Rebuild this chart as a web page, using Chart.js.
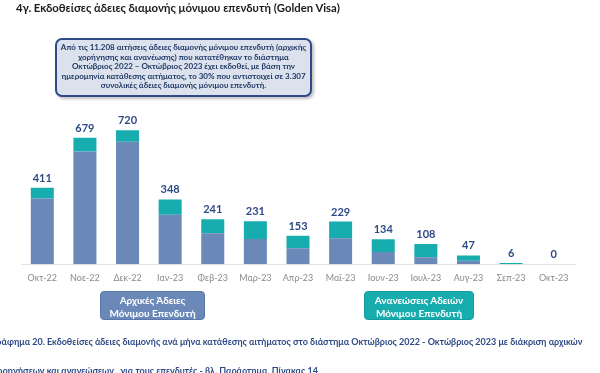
<!DOCTYPE html>
<html lang="el">
<head>
<meta charset="utf-8">
<script src="https://cdn.jsdelivr.net/npm/chart.js@4"></script>
<style>
  html, body { margin: 0; padding: 0; background: #fff; }
  body { width: 600px; height: 373px; overflow: hidden; position: relative; font-family: Lato, "Open Sans", sans-serif; }
  #wrap { position: absolute; left: 0; top: 0; width: 600px; height: 373px; }
  .title { position: absolute; left: 16px; top: 1px; font-size: 11.3px; font-weight: 700; color: #1b1b1b; white-space: nowrap; }
  .note { position: absolute; left: 55px; top: 38px; width: 257px; height: 59px; box-sizing: border-box;
    background: #dbe2ee; border: 2px solid #2f4b87; border-radius: 7px; box-shadow: 2px 2px 3px rgba(0,0,0,.25);
    color: #1f3864; font-weight: 700; font-size: 8px; line-height: 9.6px; text-align: center; padding-top: 3px; white-space: nowrap; }
  .legend { position: absolute; top: 291px; height: 29px; box-sizing: border-box; border-radius: 4px;
    color: #fff; font-weight: 700; font-size: 10px; line-height: 12.5px; text-align: center; padding-top: 2px; white-space: nowrap; }
  .caption { position: absolute; left: -7px; font-size: 9px; font-weight: 700; color: #2e4a86; white-space: nowrap; }
</style>
</head>
<body>
<div id="wrap"><canvas id="chart" width="600" height="373"></canvas></div>
<div class="title">4γ. Εκδοθείσες άδειες διαμονής μόνιμου επενδυτή (Golden Visa)</div>
<div class="note">Από τις 11.208 αιτήσεις άδειες διαμονής μόνιμου επενδυτή (αρχικής<br>χορήγησης και ανανέωσης) που κατατέθηκαν το διάστημα<br>Οκτώβριος 2022 – Οκτώβριος 2023 έχει εκδοθεί, με βάση την<br>ημερομηνία κατάθεσης αιτήματος, το 30% που αντιστοιχεί σε 3.307<br>συνολικές άδειες διαμονής μόνιμου επενδυτή.</div>
<div class="legend" id="leg1" style="left:100px;width:105px;background:#6a89b9;border:1px solid #5877a8;">Αρχικές Άδειες<br>Μόνιμου Επενδυτή</div>
<div class="legend" id="leg2" style="left:364px;width:110px;background:#17adae;border:1px solid #119c9d;">Ανανεώσεις Αδειών<br>Μόνιμου Επενδυτή</div>
<div class="caption" style="top:336px;">Γράφημα 20. Εκδοθείσες άδειες διαμονής ανά μήνα κατάθεσης αιτήματος στο διάστημα Οκτώβριος 2022 - Οκτώβριος 2023 με διάκριση αρχικών</div>
<div class="caption" style="top:365px;">χορηγήσεων και ανανεώσεων , για τους επενδυτές - βλ. Παράρτημα, Πίνακας 14</div>
<script>
const months = ['Οκτ-22', 'Νοε-22', 'Δεκ-22', 'Ιαν-23', 'Φεβ-23', 'Μαρ-23', 'Απρ-23', 'Μαϊ-23', 'Ιουν-23', 'Ιουλ-23', 'Αυγ-23', 'Σεπ-23', 'Οκτ-23'];
const initialPermits = [353, 605, 658, 266, 166, 135, 86, 139, 65, 37, 19, 0, 0];
const renewals = [58, 74, 62, 82, 75, 96, 67, 90, 69, 71, 28, 6, 0];
const totals = [411, 679, 720, 348, 241, 231, 153, 229, 134, 108, 47, 6, 0];

// totals above each stacked bar
const totalLabels = {
  id: 'totalLabels',
  afterDatasetsDraw(chart) {
    const ctx = chart.ctx;
    const y = chart.scales.y;
    const meta = chart.getDatasetMeta(1);
    ctx.save();
    ctx.font = 'bold 11px Lato, sans-serif';
    ctx.fillStyle = '#2e4a86';
    ctx.textAlign = 'center';
    ctx.textBaseline = 'alphabetic';
    meta.data.forEach((bar, i) => {
      ctx.fillText(String(totals[i]), bar.x, y.getPixelForValue(totals[i]) - 6);
    });
    ctx.restore();
  }
};

new Chart(document.getElementById('chart'), {
  type: 'bar',
  data: {
    labels: months,
    datasets: [
      { label: 'Αρχικές Άδειες Μόνιμου Επενδυτή', data: initialPermits, backgroundColor: '#6a89b9' },
      { label: 'Ανανεώσεις Αδειών Μόνιμου Επενδυτή', data: renewals, backgroundColor: '#17adae' },
    ],
  },
  options: {
    responsive: false,
    animation: false,
    layout: { padding: { left: 21, right: 25, top: 78, bottom: 82 } },
    barPercentage: 0.54,
    categoryPercentage: 1,
    plugins: { legend: { display: false }, tooltip: { enabled: false } },
    scales: {
      x: {
        stacked: true,
        grid: { display: false, drawTicks: false },
        border: { display: true, color: '#e3e3e3' },
        ticks: { color: '#8a8a8a', font: { family: 'Lato', size: 9 }, padding: 8, maxRotation: 0 },
      },
      y: { stacked: true, display: false, min: 0, max: 1000 },
    },
  },
  plugins: [totalLabels],
});
</script>
</body>
</html>
